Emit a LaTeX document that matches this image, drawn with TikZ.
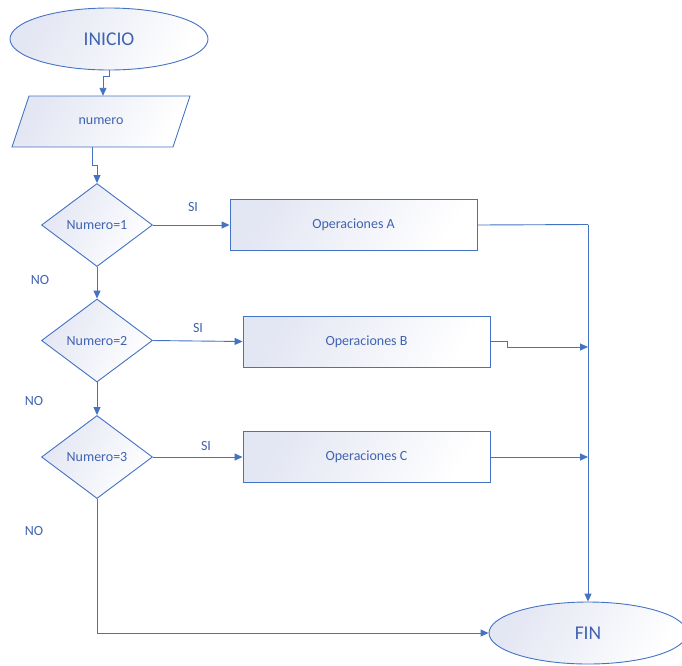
\documentclass[tikz,border=0pt]{standalone}
\usepackage{fontspec}
\setmainfont{Carlito}
\usetikzlibrary{shapes.geometric,arrows.meta}
\definecolor{lineblue}{HTML}{4472C4}
\definecolor{textblue}{HTML}{4063B0}
\definecolor{shadeblue}{HTML}{E3E6F3}
\tikzset{
  fillstyle/.style={draw=lineblue, line width=0.9pt, left color=shadeblue, right color=white, shading angle=60},
  shapefill/.style={fillstyle, text=textblue, font=\fontsize{14}{16}\selectfont},
  terminal/.style={shapefill, ellipse, minimum width=198pt, minimum height=62pt, inner sep=0pt, font=\fontsize{19.5}{22}\selectfont},
  iobox/.style={rectangle, minimum width=161pt, minimum height=51pt, inner sep=0pt, text=textblue, font=\fontsize{14}{16}\selectfont},
  decision/.style={shapefill, diamond, minimum width=111pt, minimum height=83pt, inner sep=0pt, aspect=1.34},
  process/.style={shapefill, rectangle, minimum width=247pt, minimum height=51pt, inner sep=0pt},
  link/.style={draw=lineblue, line width=0.9pt},
  arrow/.style={link, -{Triangle[length=8pt,width=7pt]}},
  tag/.style={text=textblue, font=\fontsize{14}{16}\selectfont}
}
\begin{document}
\begin{tikzpicture}[x=1pt, y=-1pt]
\useasboundingbox (0,0) rectangle (682,665);
\fill[white] (0,0) rectangle (682,665);

% input parallelogram, outline drawn around its text node
\shade[fillstyle] (29,96) -- (190,96) -- (173,147) -- (12,147) -- cycle;
\node[iobox] (numero) at (101,121.5) {numero};

% shapes
\node[terminal] (inicio) at (109,39) {INICIO};
\node[decision] (d1) at (97,225) {Numero=1};
\node[decision] (d2) at (97,340.5) {Numero=2};
\node[decision] (d3) at (97,457) {Numero=3};
\node[process] (opA) at (353.5,225) {Operaciones A};
\node[process] (opB) at (366.5,341.5) {Operaciones B};
\node[process] (opC) at (366.5,457) {Operaciones C};
\node[terminal] (fin) at (588,633) {FIN};

% junction points
\coordinate (jA) at (588,224.5);
\coordinate (jB) at (588,347);
\coordinate (jC) at (588,457);

% flow
\draw[arrow] (inicio.south) -- ++(0,6) -| ([xshift=2pt]numero.north);
\draw[arrow] ([xshift=-9pt]numero.south) -- ++(0,18) -| (d1.north);
\draw[arrow] (d1.south) -- (d2.north);
\draw[arrow] (d2.south) -- (d3.north);
\draw[arrow] (d1.east) -- (opA.west);
\draw[arrow] (d2.east) -- (opB.west);
\draw[arrow] (d3.east) -- (opC.west);
\draw[link] (opA.east) -- (jA);
\draw[arrow] (jA) -- (fin.north);
\draw[arrow] (opB.east) -- ++(17,0) |- (jB);
\draw[arrow] (opC.east) -- (jC);
\draw[arrow] (d3.south) |- (fin.west);

% labels
\node[tag] at (193,207) {SI};
\node[tag] at (198,328) {SI};
\node[tag] at (206,446) {SI};
\node[tag] at (40,280) {NO};
\node[tag] at (34,401) {NO};
\node[tag] at (34,531) {NO};
\end{tikzpicture}
\end{document}
